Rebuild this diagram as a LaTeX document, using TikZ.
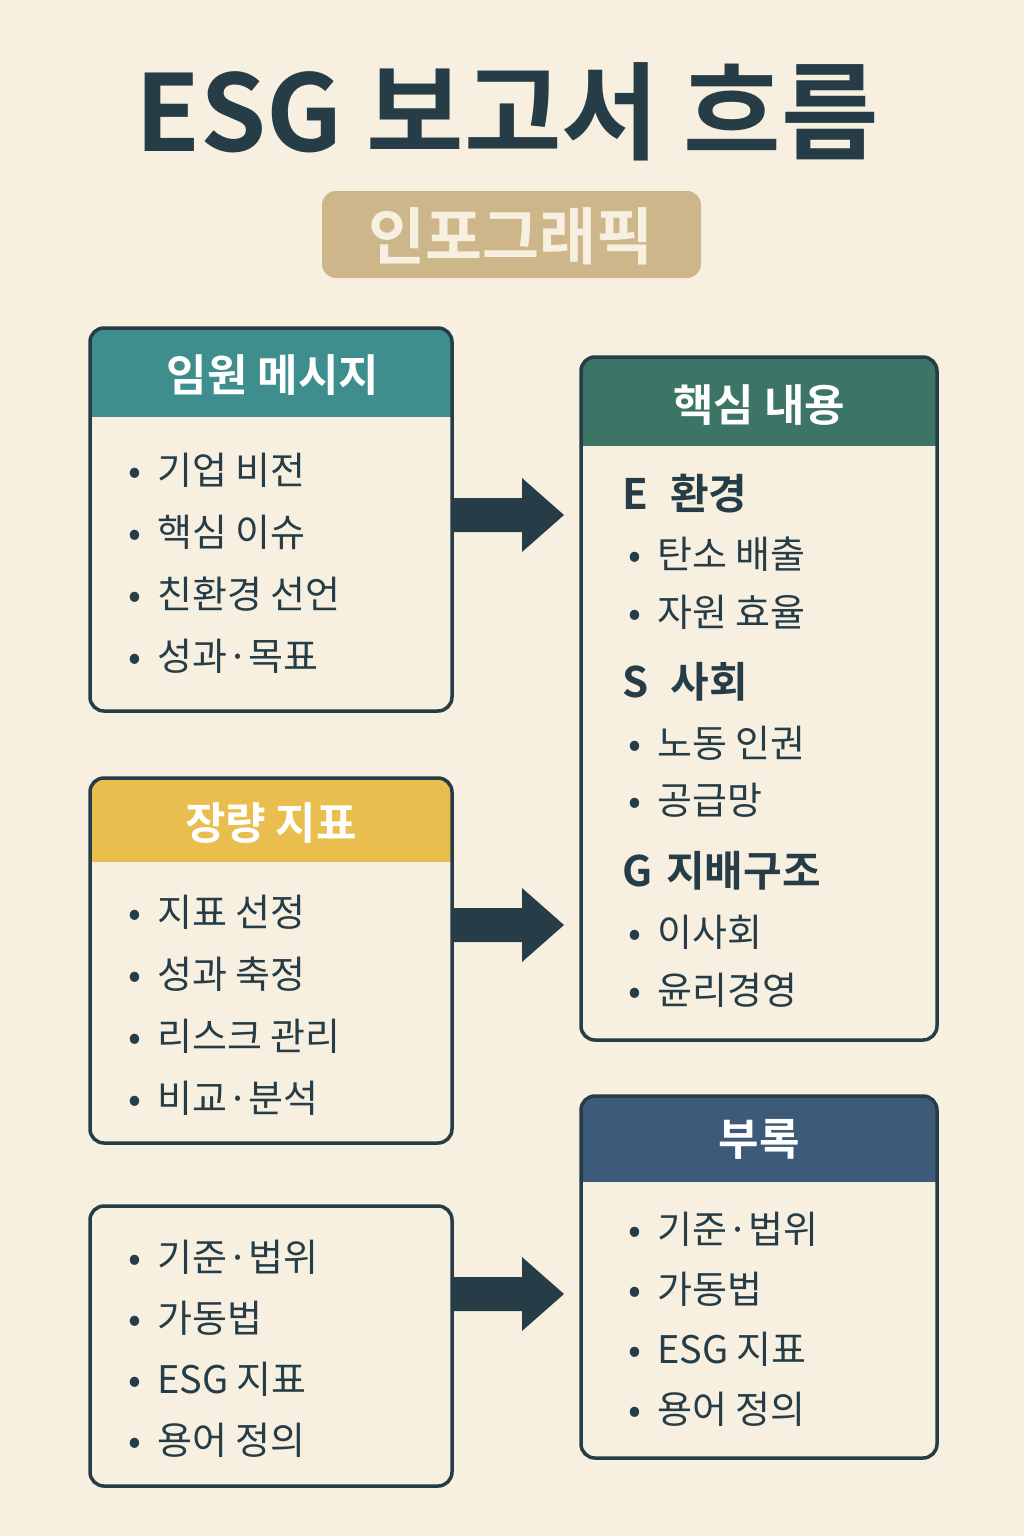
\documentclass[tikz,border=0pt]{standalone}
\usepackage{fontspec}
\setmainfont{Noto Sans CJK KR}
\newfontfamily\krb{Noto Sans CJK KR Bold}
\begin{document}
\begin{tikzpicture}[x=1pt,y=-1pt,
  box/.style={draw=dk,line width=3.5pt,rounded corners=14pt},
  item/.style={anchor=west,inner sep=0pt,font=\fontsize{38}{42}\selectfont,text=dk},
  hd/.style={font=\krb\fontsize{44}{48}\selectfont,text=white},
  sec/.style={anchor=west,inner sep=0pt,font=\krb\fontsize{42}{46}\selectfont,text=dk}]
\definecolor{bg}{HTML}{F7F0E1}
\definecolor{dk}{HTML}{263D47}
\definecolor{teal}{HTML}{3F8E8E}
\definecolor{grn}{HTML}{3C7565}
\definecolor{yel}{HTML}{E9BE4E}
\definecolor{nav}{HTML}{3D5A78}
\definecolor{tan}{HTML}{CDB68A}
\fill[bg] (0,0) rectangle (1024,1536);
\useasboundingbox (0,0) rectangle (1024,1536);
\node[font=\krb\fontsize{106}{110}\selectfont,text=dk] (title) at (507,112) {ESG 보고서 흐름};
\fill[tan,rounded corners=14pt] (322,191) rectangle (701,278);
\node[font=\krb\fontsize{62}{66}\selectfont,text=bg] (sub) at (511,236) {인포그래픽};
\newcommand{\headbox}[6]{% x1 y1 x2 y2 yh color
  \begin{scope}
  \clip[rounded corners=14pt] (#1,#2) rectangle (#3,#4);
  \fill[bg] (#1,#2) rectangle (#3,#4);
  \fill[#6] (#1,#2) rectangle (#3,#5);
  \end{scope}
  \draw[box] (#1,#2) rectangle (#3,#4);}
\newcommand{\bul}[1]{\makebox[29pt][l]{•}#1}
\headbox{90}{328}{452}{711}{417}{teal}
\node[hd] (h1) at (273,375) {임원 메시지};
\headbox{90}{778}{452}{1143}{862}{yel}
\node[hd] (h2) at (271,823) {장량 지표};
\draw[box,fill=bg] (90,1206) rectangle (452,1486);
\headbox{581}{357}{937}{1040}{446}{grn}
\node[hd] (h3) at (759,405) {핵심 내용};
\headbox{581}{1096}{937}{1458}{1182}{nav}
\node[hd] (h4) at (759,1139) {부록};
\foreach \t [count=\i] in {기업 비전,핵심 이슈,친환경 선언,성과·목표}
  \node[item] at (128,408+62*\i) {\bul{\t}};
\foreach \t [count=\i] in {지표 선정,성과 축정,리스크 관리,비교·분석}
  \node[item] at (128,850+62*\i) {\bul{\t}};
\foreach \t [count=\i] in {기준·법위,가동법,ESG 지표,용어 정의}
  \node[item] at (128,1196+61*\i) {\bul{\t}};
\foreach \t [count=\i] in {기준·법위,가동법,ESG 지표,용어 정의}
  \node[item] at (628,1169+60*\i) {\bul{\t}};
\node[sec] (e) at (622,494) {E\hspace{22pt}환경};
\node[item] at (628,554) {\bul{탄소 배출}};
\node[item] at (628,612) {\bul{자원 효율}};
\node[sec] (s) at (622,682) {S\hspace{22pt}사회};
\node[item] at (628,743) {\bul{노동 인권}};
\node[item] at (628,800) {\bul{공급망}};
\node[sec] (g) at (622,871) {G\hspace{14pt}지배구조};
\node[item] at (628,932) {\bul{이사회}};
\node[item] at (628,990) {\bul{윤리경영}};
\foreach \y in {515,925,1294}
  \fill[dk] (452,\y-17) -- (522,\y-17) -- (522,\y-37) -- (564,\y) -- (522,\y+37) -- (522,\y+17) -- (452,\y+17) -- cycle;
\end{tikzpicture}
\end{document}
